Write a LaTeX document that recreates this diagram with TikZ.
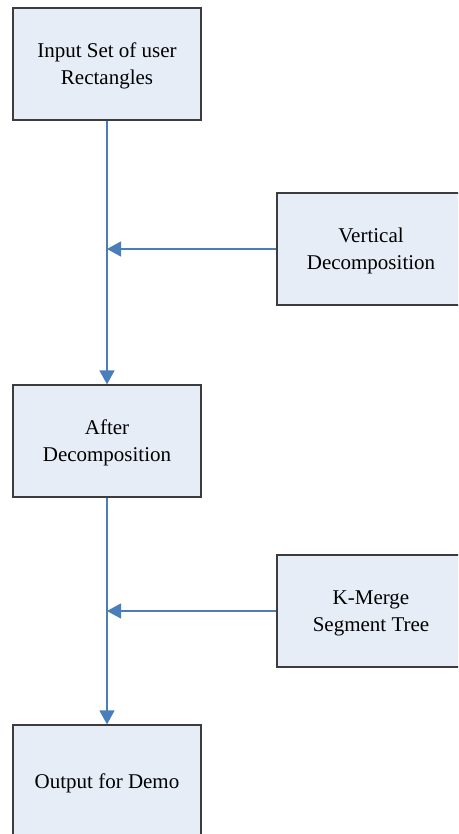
\documentclass[tikz,border=0pt]{standalone}
\usepackage{fontspec}
\setmainfont{Liberation Serif}
\usetikzlibrary{arrows.meta,positioning}
\definecolor{boxfill}{HTML}{E6EDF7}
\definecolor{boxline}{HTML}{3C3C3C}
\definecolor{flow}{HTML}{4A7EBB}
\begin{document}
\begin{tikzpicture}[x=1pt,y=-1pt,
  stepbox/.style={draw=boxline, line width=1.2pt, fill=boxfill,
    minimum width=188pt, minimum height=112pt, align=center,
    inner sep=0pt, text depth=0pt, font=\fontsize{21}{27}\selectfont},
  flowline/.style={draw=flow, line width=1.2pt,
    -{Triangle[width=15pt,length=14pt]}}]
  \clip (0,0) rectangle (458,834);
  \fill[white] (0,0) rectangle (458,834);
  % main column
  \node[stepbox] (input) at (107,64) {Input Set of user\\Rectangles};
  \node[stepbox] (after) at (107,441) {After\\Decomposition};
  \node[stepbox] (output) at (107,781) {Output for Demo};
  % side steps feeding the column
  \node[stepbox] (vert) at (371,249) {Vertical\\Decomposition};
  \node[stepbox] (kmerge) at (371,611) {K-Merge\\Segment Tree};
  \coordinate (j1) at (input.south |- vert.west);
  \coordinate (j2) at (after.south |- kmerge.west);
  % connectors
  \draw[flowline] (input.south) -- (after.north);
  \draw[flowline] (after.south) -- (output.north);
  \draw[flowline] (vert.west) -- (j1);
  \draw[flowline] (kmerge.west) -- (j2);
\end{tikzpicture}
\end{document}
